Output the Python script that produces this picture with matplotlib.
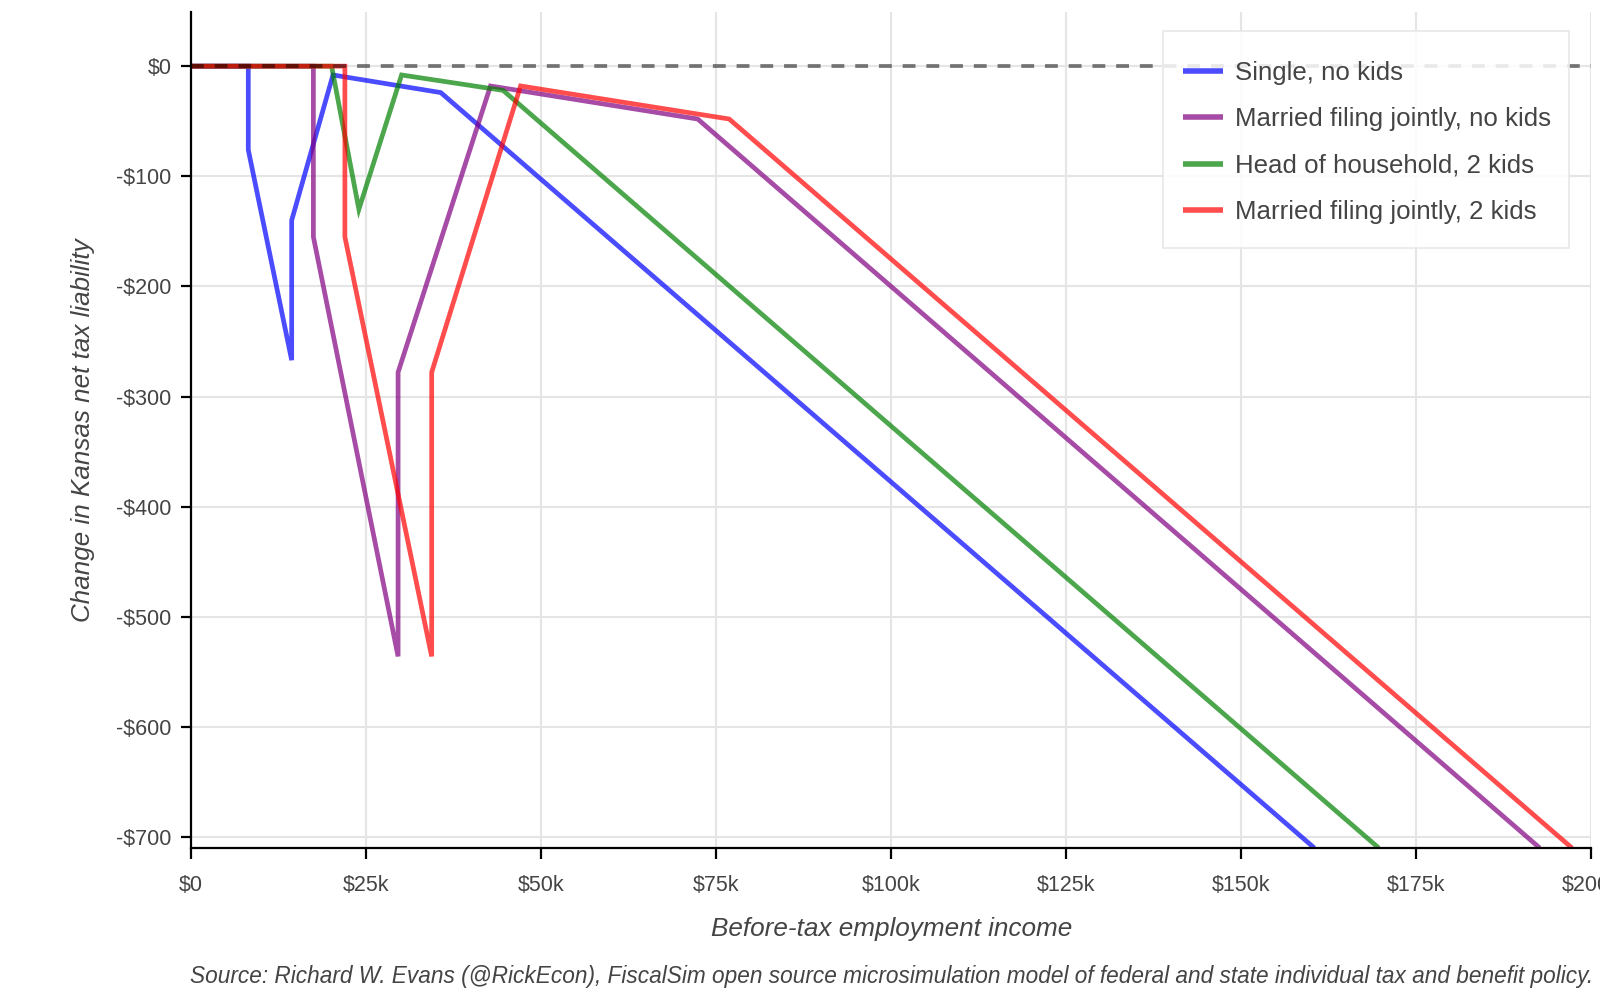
import numpy as np
import matplotlib
matplotlib.use("Agg")
from matplotlib import pyplot as plt
from matplotlib.patches import Rectangle
from matplotlib.ticker import FuncFormatter

plt.rcParams['font.family'] = ['Liberation Sans', 'DejaVu Sans']

# change in Kansas net tax liability by before-tax employment income
single_x = [0, 8200, 8200, 14400, 14400, 20300, 35700, 160500]
single_y = [0, 0, -76, -267, -140, -8, -24, -710]

mfj_x = [0, 17500, 17500, 29600, 29600, 42800, 72400, 192700]
mfj_y = [0, 0, -155, -536, -278, -18, -48, -710]

hoh_x = [0, 20100, 24000, 30100, 44600, 169700]
hoh_y = [0, 0, -130, -8, -22, -710]

mfj2_x = [0, 22000, 22000, 34400, 34400, 47100, 76900, 197300]
mfj2_y = [0, 0, -155, -536, -278, -18, -48, -710]

series = [
    ("Single, no kids", single_x, single_y, "blue"),
    ("Married filing jointly, no kids", mfj_x, mfj_y, "purple"),
    ("Head of household, 2 kids", hoh_x, hoh_y, "green"),
    ("Married filing jointly, 2 kids", mfj2_x, mfj2_y, "red"),
]

x_ticks = np.arange(0, 200001, 25000)
y_ticks = np.arange(-700, 1, 100)

txt = "#444444"

fig = plt.figure(figsize=(16, 10), dpi=100)
ax = fig.add_axes([0.1193, 0.152, 0.875, 0.8358])

for name, xs, ys, col in series:
    ax.plot(xs, ys, color=col, alpha=0.7, lw=3.4, label=name,
            solid_joinstyle='miter', solid_capstyle='butt')

# zero reference line
ax.axhline(0, color='black', alpha=0.5, lw=2.8, dashes=(3.3, 2.8), zorder=5)

ax.set_xlim(0, 200000)
ax.set_ylim(-710, 49)
ax.set_xticks(x_ticks)
ax.set_yticks(y_ticks)
ax.xaxis.set_major_formatter(FuncFormatter(lambda v, p: "$0" if v == 0 else f"${v/1000:.0f}k"))
ax.yaxis.set_major_formatter(FuncFormatter(lambda v, p: "$0" if v == 0 else f"-${abs(v):.0f}"))

ax.grid(True, color='#e5e5e5', lw=1.5)
ax.set_axisbelow(True)
for s in ['top', 'right']:
    ax.spines[s].set_visible(False)
for s in ['left', 'bottom']:
    ax.spines[s].set_linewidth(1.6)
    ax.spines[s].set_color('black')
ax.tick_params(axis='both', width=1.6, colors='black',
               labelcolor=txt, labelsize=15.5, direction='out')
ax.tick_params(axis='x', length=8, pad=11.5)
ax.tick_params(axis='y', length=7, pad=7)

# legend box (plotly-like padding: more room above/below than at the sides)
box = Rectangle((1140/1568, 1 - 243/980), 398/1568, 213/980, transform=fig.transFigure,
                facecolor='white', alpha=0.85, edgecolor='none', zorder=6)
ax.add_artist(box)
box.set_clip_on(False)
frame = Rectangle((1140/1568, 1 - 243/980), 398/1568, 213/980, transform=fig.transFigure,
                  facecolor='none', edgecolor='#e8e8e8', lw=1.2, zorder=6.5)
ax.add_artist(frame)
frame.set_clip_on(False)

leg = ax.legend(loc='upper left', bbox_to_anchor=(1159/1568, 1 - 60/980),
                bbox_transform=fig.transFigure, fontsize=18.6, frameon=False,
                handlelength=1.57, handletextpad=0.45,
                labelspacing=0.86, borderpad=0, borderaxespad=0)
leg.set_zorder(7)
for t in leg.get_texts():
    t.set_color(txt)
for h in leg.get_lines():
    h.set_linewidth(4)

fig.text(0.052, 0.5698, "Change in Kansas net tax liability", rotation=90,
         ha='center', va='center', fontsize=18.7, style='italic', color=txt)
fig.text(0.557, 0.0714, "Before-tax employment income", ha='center',
         va='center', fontsize=18.8, style='italic', color=txt)
fig.text(0.996, 0.0235, "Source: Richard W. Evans (@RickEcon), FiscalSim open source "
         "microsimulation model of federal and state individual tax and benefit policy.",
         ha='right', va='center', fontsize=16.3, style='italic', color=txt)

fig.savefig("out.png", dpi=100)
